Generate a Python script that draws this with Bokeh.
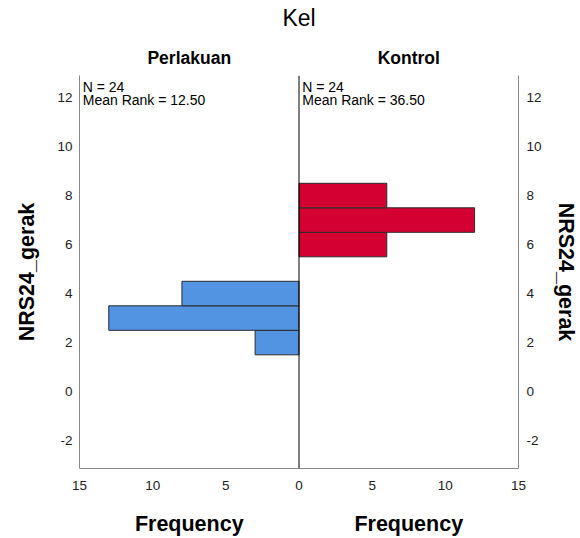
from bokeh.plotting import figure
from bokeh.models import Range1d, LinearAxis, FixedTicker, Span, Label
from bokeh.embed import file_html
from bokeh.resources import INLINE

# Data
perlakuan_bins = [2, 3, 4]
perlakuan_counts = [3, 13, 8]
kontrol_bins = [6, 7, 8]
kontrol_counts = [6, 12, 6]
freq_ticks = [-15, -10, -5, 0, 5, 10, 15]
freq_labels = ["15", "10", "5", "0", "5", "10", "15"]
y_ticks = [-2, 0, 2, 4, 6, 8, 10, 12]
y_labels = ["-2", "0", "2", "4", "6", "8", "10", "12"]
groups = ["Perlakuan", "Kontrol"]
group_centers = [-7.5, 7.5]
n_values = [24, 24]
mean_ranks = [12.50, 36.50]
y_title = "NRS24_gerak"
x_title = "Frequency"
panel_title = "Kel"

FONT = "Liberation Sans"

p = figure(width=580, height=538, output_backend="svg", toolbar_location=None,
           x_range=Range1d(-15, 15), y_range=Range1d(-3.14, 12.9),
           min_border_left=79, min_border_right=62, min_border_top=75, min_border_bottom=70)
p.outline_line_color = None
p.grid.visible = False
p.background_fill_color = "white"
p.border_fill_color = "white"

# bars
p.hbar(y=perlakuan_bins, left=[-c for c in perlakuan_counts], right=0, height=1,
       fill_color="#5294E2", line_color="#2b2b2b", line_width=1)
p.hbar(y=kontrol_bins, left=0, right=kontrol_counts, height=1,
       fill_color="#D50032", line_color="#2b2b2b", line_width=1)

p.add_layout(Span(location=0, dimension="height", line_color="black", line_width=1))

# numeric axes
p.xaxis.ticker = FixedTicker(ticks=freq_ticks)
p.xaxis.major_label_overrides = {t: l for t, l in zip(freq_ticks, freq_labels)}
p.yaxis.ticker = FixedTicker(ticks=y_ticks)
p.yaxis.major_label_overrides = {t: l for t, l in zip(y_ticks, y_labels)}
right_axis = LinearAxis(ticker=FixedTicker(ticks=y_ticks),
                        major_label_overrides={t: l for t, l in zip(y_ticks, y_labels)})
p.add_layout(right_axis, "right")
for ax in p.xaxis + p.yaxis:
    ax.major_tick_line_color = None
    ax.minor_tick_line_color = None
    ax.major_tick_out = 0
    ax.major_tick_in = 0
    ax.minor_tick_out = 0
    ax.minor_tick_in = 0
    ax.axis_line_color = "#888888"
    ax.major_label_text_font = FONT
    ax.major_label_text_font_size = "13.5px"
    ax.major_label_text_color = "#222222"
    ax.major_label_standoff = 7
    ax.axis_label_text_font = FONT
    ax.axis_label_text_font_size = "21.5px"
    ax.axis_label_text_font_style = "bold"
    ax.axis_label_text_color = "black"

p.xaxis.major_label_standoff = 12
p.yaxis[0].axis_label = y_title
p.yaxis[0].axis_label_standoff = 15
right_axis.axis_label = y_title
right_axis.major_label_standoff = 8
right_axis.axis_label_standoff = 9


def text_axis(ticks, labels, size, standoff, bold=True):
    ax = LinearAxis(ticker=FixedTicker(ticks=ticks),
                    major_label_overrides={t: l for t, l in zip(ticks, labels)})
    ax.axis_line_color = None
    ax.major_tick_line_color = None
    ax.minor_tick_line_color = None
    ax.major_tick_out = 0
    ax.major_tick_in = 0
    ax.minor_tick_out = 0
    ax.minor_tick_in = 0
    ax.major_label_text_font = FONT
    ax.major_label_text_font_size = size
    ax.major_label_text_font_style = "bold" if bold else "normal"
    ax.major_label_text_color = "black"
    ax.major_label_standoff = standoff
    return ax


# "Frequency" labels under each half
p.add_layout(text_axis(group_centers, [x_title, x_title], "21.5px", 19), "below")
# group titles above each half, then the panel variable title
p.add_layout(text_axis(group_centers, groups, "17.5px", 8), "above")
p.add_layout(text_axis([0], [panel_title], "23px", 14, bold=False), "above")

# N / Mean Rank annotations
for x0, n, mr in [(-14.78, n_values[0], mean_ranks[0]), (0.22, n_values[1], mean_ranks[1])]:
    p.add_layout(Label(x=x0, y=12.45, text=f"N = {n}", text_font=FONT, text_font_size="14px",
                       text_align="left", text_baseline="middle", text_color="black"))
    p.add_layout(Label(x=x0, y=11.88, text=f"Mean Rank = {mr:.2f}", text_font=FONT,
                       text_font_size="14px", text_align="left", text_baseline="middle",
                       text_color="black"))

open("out.html", "w").write(file_html(p, INLINE))
